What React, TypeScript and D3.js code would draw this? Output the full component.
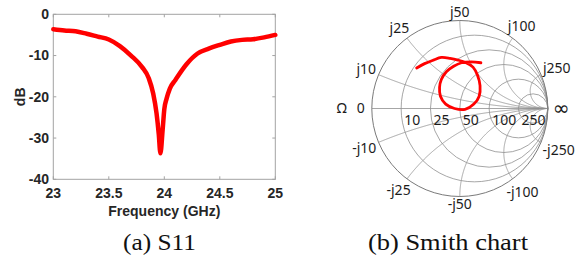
import * as d3 from 'd3';

// S11 sweep (GHz, dB)
const freqGHz = [
  23, 23.1, 23.2, 23.3, 23.4, 23.5, 23.6, 23.7, 23.8, 23.86, 23.9, 23.93, 23.95,
  23.965, 23.985, 24.0, 24.02, 24.05, 24.1, 24.2, 24.3, 24.4, 24.5, 24.6, 24.7,
  24.8, 24.9, 25,
];
const s11dB = [
  -3.6, -3.9, -4.1, -4.7, -5.4, -6.1, -7.7, -10, -12.8, -15.5, -19.2, -24, -29,
  -33.7, -28, -23, -20.5, -18, -15.9, -12.1, -9.5, -8.3, -7.4, -6.6, -6.2, -6.05,
  -5.6, -5.0,
];
const xTicks = [23, 23.5, 24, 24.5, 25];
const yTicks = [0, -10, -20, -30, -40];

// reflection coefficient trace, same sweep
const gammaRe = [
  -0.49, -0.4, -0.3, -0.21, -0.11, -0.02, 0.07, 0.15, 0.2, 0.23, 0.22, 0.16,
  0.06, -0.06, -0.16, -0.22, -0.23, -0.21, -0.15, -0.07, 0.02, 0.13, 0.24,
];
const gammaIm = [
  0.46, 0.51, 0.55, 0.58, 0.57, 0.55, 0.52, 0.47, 0.38, 0.26, 0.14, 0.05,
  -0.01, 0.0, 0.05, 0.14, 0.24, 0.33, 0.42, 0.48, 0.52, 0.53, 0.52,
];

// smith grid, ohms with Z0 = 50
const z0 = 50;
const gridOhms = [10, 25, 50, 100, 250];

const W = 578;
const H = 257;

const digitW: Record<string, number> = { j: 0.26, '-': 0.32 };
function labelWidth(s: string, size: number) {
  let w = 0;
  for (const ch of s) w += digitW[ch] ?? 0.572;
  return w * size;
}

function S11Plot() {
  const x = d3.scaleLinear().domain([23, 25]).range([53.3, 275.3]);
  const y = d3.scaleLinear().domain([-40, 0]).range([179.3, 14.3]);
  const [x0, x1] = x.range();
  const [y0, y1] = y.range();

  const line = d3
    .line<number>()
    .x((_, i) => x(freqGHz[i]))
    .y((d) => y(d))
    .curve(d3.curveMonotoneX);

  const axisCol = '#a3a3a3';
  const txt = '#262626';
  const font = { fontFamily: 'Liberation Sans, Arial, sans-serif', fontWeight: 700, fontSize: 14 };

  return (
    <g>
      <rect x={x0} y={y1} width={x1 - x0} height={y0 - y1} fill="none" stroke={axisCol} strokeWidth={1} />
      {xTicks.map((t) => (
        <g key={'x' + t}>
          <line x1={x(t)} x2={x(t)} y1={y0} y2={y0 - 3} stroke={axisCol} />
          <line x1={x(t)} x2={x(t)} y1={y1} y2={y1 + 3} stroke={axisCol} />
          <text x={x(t)} y={198.3} textAnchor="middle" fill={txt} {...font}>
            {t}
          </text>
        </g>
      ))}
      {yTicks.map((t) => (
        <g key={'y' + t}>
          <line x1={x0} x2={x0 + 3} y1={y(t)} y2={y(t)} stroke={axisCol} />
          <line x1={x1} x2={x1 - 3} y1={y(t)} y2={y(t)} stroke={axisCol} />
          <text x={49} y={y(t)} dy="0.35em" textAnchor="end" fill={txt} {...font}>
            {t}
          </text>
        </g>
      ))}
      <path
        d={line(s11dB) ?? ''}
        fill="none"
        stroke="#ff0000"
        strokeWidth={4.5}
        strokeLinejoin="round"
        strokeLinecap="round"
      />
      <text x={(x0 + x1) / 2} y={215.5} textAnchor="middle" fill={txt} {...font}>
        Frequency (GHz)
      </text>
      <text
        transform={`translate(20,${(y0 + y1) / 2}) rotate(-90)`}
        dy="0.35em"
        textAnchor="middle"
        fill={txt}
        {...font}
      >
        dB
      </text>
    </g>
  );
}

function SmithPlot() {
  const cx = 459.8;
  const cy = 108.5;
  const R = 88;
  const sx = d3.scaleLinear().domain([-1, 1]).range([cx - R, cx + R]);
  const sy = d3.scaleLinear().domain([-1, 1]).range([cy + R, cy - R]);

  const gridCol = '#8f8f8f';
  const txt = '#1c1c1c';
  const fs = 14;
  const font = { fontFamily: 'Noto Sans, Open Sans, sans-serif', fontSize: fs };

  const norm = gridOhms.map((v) => v / z0);

  // reactance arc: sweep resistance from 0 to infinity
  const rSteps = d3.range(0, 1.0001, 0.004).map((t) => (t < 1 ? t / (1 - t) : 1e9));
  const arcLine = d3
    .line<[number, number]>()
    .x((d) => sx(d[0]))
    .y((d) => sy(d[1]));
  function reactancePath(xv: number) {
    const pts = rSteps.map((r) => {
      const D = (r + 1) * (r + 1) + xv * xv;
      return [(r * r + xv * xv - 1) / D, (2 * xv) / D] as [number, number];
    });
    return arcLine(pts) ?? '';
  }

  const traceLine = d3
    .line<number>()
    .x((d) => sx(d))
    .y((_, i) => sy(gammaIm[i]))
    .curve(d3.curveCatmullRom.alpha(0.5));

  const reactLabels = gridOhms.flatMap((v) => [
    { v: v / z0, text: 'j' + v },
    { v: -v / z0, text: '-j' + v },
  ]);

  return (
    <g>
      {norm.map((r) => (
        <circle
          key={'r' + r}
          cx={sx(r / (1 + r))}
          cy={cy}
          r={R / (1 + r)}
          fill="none"
          stroke={gridCol}
          strokeWidth={0.8}
        />
      ))}
      {norm.flatMap((xv) => [xv, -xv]).map((xv) => (
        <path key={'x' + xv} d={reactancePath(xv)} fill="none" stroke={gridCol} strokeWidth={0.8} />
      ))}
      <line x1={sx(-1)} x2={sx(1)} y1={cy} y2={cy} stroke={gridCol} strokeWidth={0.8} />
      <circle cx={cx} cy={cy} r={R} fill="none" stroke="#7a7a7a" strokeWidth={1} />

      <path
        d={traceLine(gammaRe) ?? ''}
        fill="none"
        stroke="#ff0000"
        strokeWidth={2.8}
        strokeLinejoin="round"
        strokeLinecap="round"
      />

      {norm.map((r, i) => (
        <text key={'rl' + r} x={sx((r - 1) / (r + 1)) + 3} y={cy + 16.5} fill={txt} {...font}>
          {gridOhms[i]}
        </text>
      ))}
      {reactLabels.map(({ v, text }) => {
        const D = 1 + v * v;
        const gx = (v * v - 1) / D;
        const gy = (2 * v) / D;
        const ang = Math.atan2(gy, gx);
        const w = labelWidth(text, fs);
        const dist = R + 2 + Math.abs(Math.cos(ang)) * (w / 2) + Math.abs(Math.sin(ang)) * 6;
        return (
          <text
            key={text}
            x={cx + dist * Math.cos(ang)}
            y={cy - dist * Math.sin(ang)}
            dy="0.35em"
            textAnchor="middle"
            fill={txt}
            {...font}
          >
            {text}
          </text>
        );
      })}
      <text x={sx(-1) - 7} y={cy} dy="0.35em" textAnchor="end" fill={txt} {...font}>
        0
      </text>
      <text x={sx(-1) - 25} y={cy} dy="0.35em" textAnchor="end" fill={txt} {...font}>
        Ω
      </text>
      <text x={sx(1) + 5} y={cy - 1} dy="0.35em" fill={txt} fontFamily="DejaVu Sans, sans-serif" fontSize={20}>
        ∞
      </text>
    </g>
  );
}

export default function App() {
  const capFont = { fontFamily: 'Liberation Serif, Times New Roman, serif', fontSize: 23, fill: '#111' };
  return (
    <svg
      width={W}
      height={H}
      viewBox={`0 0 ${W} ${H}`}
      style={{ position: 'absolute', left: 0, top: 0, background: '#fff' }}
    >
      <rect width={W} height={H} fill="#fff" />
      <S11Plot />
      <SmithPlot />
      <text x={123} y={250} textLength={73} lengthAdjust="spacingAndGlyphs" {...capFont}>
        (a) S11
      </text>
      <text x={368} y={250} textLength={160} lengthAdjust="spacingAndGlyphs" {...capFont}>
        (b) Smith chart
      </text>
    </svg>
  );
}
